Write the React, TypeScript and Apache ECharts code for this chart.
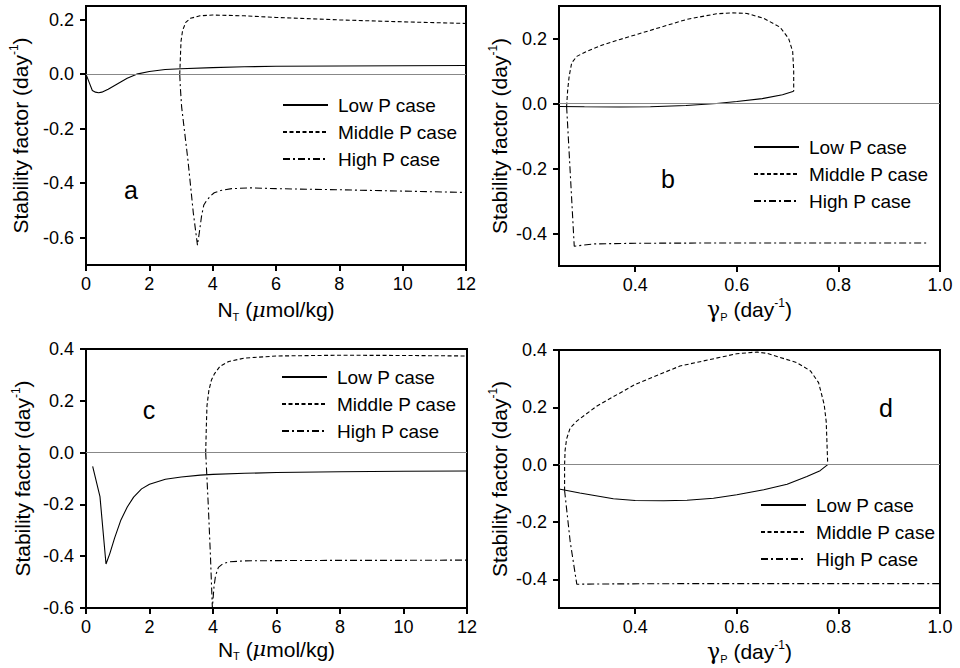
import React, { useEffect, useRef } from "react";
import * as echarts from "echarts";

const FONT = "'Liberation Sans', Arial, Helvetica, sans-serif";
const NAMES = ["Low P case", "Middle P case", "High P case"];
const PANEL_LABELS = ["a", "b", "c", "d"];

// tick marks
const xTicksN = [0, 2, 4, 6, 8, 10, 12];
const xTicksG = [0.4, 0.6, 0.8, 1.0];
const yTicksA = [-0.6, -0.4, -0.2, 0, 0.2];
const yTicksB = [-0.4, -0.2, 0, 0.2];
const yTicksC = [-0.6, -0.4, -0.2, 0, 0.2, 0.4];
const yTicksD = [-0.4, -0.2, 0, 0.2, 0.4];

// Panel a (x = N_T)
const aLowX = [0, 0.1, 0.2, 0.3, 0.4, 0.5, 0.7, 1.0, 1.3, 1.6, 2.0, 2.5, 3, 4, 5, 6, 8, 10, 12];
const aLowY = [0, -0.03, -0.06, -0.066, -0.068, -0.066, -0.055, -0.035, -0.015, 0.0, 0.01, 0.017, 0.02, 0.024, 0.027, 0.029, 0.03, 0.031, 0.032];
const aMidX = [2.96, 2.98, 3.0, 3.05, 3.15, 3.3, 3.6, 4.0, 5, 6, 8, 10, 12];
const aMidY = [0.0, 0.06, 0.12, 0.16, 0.19, 0.205, 0.214, 0.217, 0.214, 0.208, 0.199, 0.192, 0.186];
const aHighX = [2.96, 2.98, 3.02, 3.22, 3.39, 3.52, 3.58, 3.65, 3.72, 3.8, 3.92, 4.05, 4.25, 4.6, 5.2, 6, 8, 10, 12];
const aHighY = [0, -0.05, -0.12, -0.316, -0.51, -0.627, -0.58, -0.52, -0.48, -0.465, -0.448, -0.435, -0.427, -0.42, -0.417, -0.42, -0.424, -0.429, -0.434];

// Panel b (x = gamma_P)
const bLowX = [0.25, 0.3, 0.37, 0.43, 0.5, 0.56, 0.6, 0.65, 0.69, 0.712];
const bLowY = [-0.009, -0.01, -0.011, -0.01, -0.006, 0.0, 0.006, 0.015, 0.027, 0.038];
const bMidX = [0.265, 0.267, 0.27, 0.275, 0.285, 0.305, 0.337, 0.37, 0.436, 0.502, 0.56, 0.59, 0.62, 0.653, 0.685, 0.702, 0.71, 0.712, 0.712];
const bMidY = [-0.009, 0.04, 0.084, 0.125, 0.145, 0.161, 0.181, 0.197, 0.228, 0.259, 0.276, 0.279, 0.277, 0.262, 0.235, 0.2, 0.16, 0.1, 0.038];
const bHighX = [0.265, 0.28, 0.32, 0.4, 0.6, 0.8, 0.973];
const bHighY = [-0.009, -0.439, -0.432, -0.43, -0.429, -0.429, -0.429];

// Panel c (x = N_T)
const cLowX = [0.21, 0.44, 0.63, 0.75, 0.9, 1.1, 1.3, 1.5, 1.75, 2.0, 2.5, 3, 3.6, 4, 5, 6, 8, 10, 12];
const cLowY = [-0.053, -0.17, -0.43, -0.39, -0.33, -0.26, -0.21, -0.172, -0.14, -0.122, -0.103, -0.094, -0.087, -0.084, -0.08, -0.077, -0.074, -0.072, -0.071];
const cMidX = [3.77, 3.79, 3.81, 3.87, 3.95, 4.05, 4.22, 4.5, 5, 6, 8, 10, 12];
const cMidY = [0, 0.1, 0.18, 0.24, 0.28, 0.305, 0.333, 0.352, 0.365, 0.373, 0.376, 0.375, 0.373];
const cHighX = [3.77, 3.85, 3.92, 3.98, 4.03, 4.08, 4.17, 4.3, 4.5, 5, 6, 8, 10, 12];
const cHighY = [0, -0.2, -0.4, -0.6, -0.52, -0.475, -0.443, -0.43, -0.422, -0.418, -0.417, -0.416, -0.416, -0.415];

// Panel d (x = gamma_P)
const dLowX = [0.25, 0.291, 0.357, 0.4, 0.456, 0.502, 0.554, 0.6, 0.653, 0.699, 0.738, 0.764, 0.779];
const dLowY = [-0.085, -0.099, -0.119, -0.125, -0.126, -0.124, -0.117, -0.105, -0.0875, -0.068, -0.041, -0.021, 0.0];
const dMidX = [0.261, 0.261, 0.262, 0.265, 0.272, 0.285, 0.324, 0.4, 0.488, 0.6, 0.64, 0.66, 0.718, 0.745, 0.761, 0.772, 0.776, 0.778, 0.779];
const dMidY = [-0.09, 0.0, 0.05, 0.09, 0.128, 0.152, 0.204, 0.28, 0.344, 0.387, 0.393, 0.388, 0.356, 0.327, 0.286, 0.21, 0.15, 0.05, 0.0];
const dHighX = [0.261, 0.272, 0.285, 0.35, 0.5, 0.75, 1.0];
const dHighY = [-0.09, -0.268, -0.417, -0.416, -0.415, -0.415, -0.415];

const pair = (xs: number[], ys: number[]) => xs.map((x, i) => [x, ys[i]]);

const panels = [
  { grid: { left: 86, top: 6, width: 380, height: 259 }, x: [0, 12], y: [-0.7, 0.25], xt: xTicksN, yt: yTicksA, xName: "N", xGap: 32, yGap: 53, series: [pair(aLowX, aLowY), pair(aMidX, aMidY), pair(aHighX, aHighY)], legend: { left: 282, top: 95 }, label: { x: 131, y: 190 } },
  { grid: { left: 559, top: 6, width: 381, height: 260 }, x: [0.25, 1.0], y: [-0.5, 0.3], xt: xTicksG, yt: yTicksB, xName: "G", xGap: 31, yGap: 45, series: [pair(bLowX, bLowY), pair(bMidX, bMidY), pair(bHighX, bHighY)], legend: { left: 753, top: 137 }, label: { x: 668, y: 179 } },
  { grid: { left: 86, top: 349, width: 381, height: 259 }, x: [0, 12], y: [-0.6, 0.4], xt: xTicksN, yt: yTicksC, xName: "N", xGap: 25, yGap: 51, series: [pair(cLowX, cLowY), pair(cMidX, cMidY), pair(cHighX, cHighY)], legend: { left: 281, top: 367 }, label: { x: 149, y: 410 } },
  { grid: { left: 559, top: 350, width: 381, height: 258 }, x: [0.25, 1.0], y: [-0.5, 0.4], xt: xTicksG, yt: yTicksD, xName: "G", xGap: 31, yGap: 44, series: [pair(dLowX, dLowY), pair(dMidX, dMidY), pair(dHighX, dHighY)], legend: { left: 760, top: 495 }, label: { x: 886, y: 408 } },
];

const lineTypes: any[] = ["solid", [4, 2.5], [7, 3, 2, 3]];

const rich = {
  sup: { fontSize: 12, lineHeight: 12, verticalAlign: "top", fontFamily: FONT, color: "#000" },
  sub: { fontSize: 11, lineHeight: 11, verticalAlign: "bottom", fontFamily: FONT, color: "#000" },
  mu: { fontSize: 21, lineHeight: 25, fontStyle: "italic", fontFamily: "'DejaVu Serif', serif", color: "#000" },
  gam: { fontSize: 22, lineHeight: 25, fontFamily: "'DejaVu Serif', serif", color: "#000" },
};

const isShown = (v: number, step: number, from: number) => {
  const r = Math.round(v / step);
  if (Math.abs(v / step - r) > 1e-6) return false;
  return r % 2 === 0 && v >= from - 1e-9;
};

export default function App() {
  const ref = useRef<HTMLDivElement>(null);
  useEffect(() => {
    if (!ref.current) return;
    const chart = echarts.init(ref.current, null, { renderer: "svg" });
    const grids: any[] = [];
    const xAxes: any[] = [];
    const yAxes: any[] = [];
    const series: any[] = [];
    const legends: any[] = [];
    const graphics: any[] = [];
    panels.forEach((p, i) => {
      grids.push({ ...p.grid, show: true, borderColor: "#000", borderWidth: 2, backgroundColor: "transparent" });
      const isN = p.xName === "N";
      xAxes.push({
        type: "value", gridIndex: i, min: p.x[0], max: p.x[1],
        interval: isN ? 2 : 0.05,
        name: isN ? "N{sub|T} ({mu|μ}mol/kg)" : "{gam|γ}{sub|P} (day{sup|-1})",
        nameLocation: "middle", nameGap: p.xGap,
        nameTextStyle: { fontSize: 21, lineHeight: 25, fontFamily: FONT, color: "#000", rich },
        axisLine: { show: true, onZero: false, lineStyle: { color: "#000", width: 2 } },
        axisTick: { show: true, inside: false, length: 6, lineStyle: { color: "#000", width: 2 }, customValues: p.xt },
        axisLabel: {
          fontSize: 18, fontFamily: FONT, color: "#000", margin: 10, interval: 0, hideOverlap: false,
          showMinLabel: true, showMaxLabel: true,
          formatter: (v: number) => (isN ? String(Math.round(v)) : (isShown(v, 0.1, 0.4) ? v.toFixed(1) : "")),
        },
        splitLine: { show: false },
      });
      yAxes.push({
        type: "value", gridIndex: i, min: p.y[0], max: p.y[1], interval: 0.1,
        name: "Stability factor (day{sup|-1})",
        nameLocation: "middle", nameGap: p.yGap,
        nameTextStyle: { fontSize: 21, lineHeight: 25, fontFamily: FONT, color: "#000", rich },
        axisLine: { show: true, onZero: false, lineStyle: { color: "#000", width: 2 } },
        axisTick: { show: true, inside: false, length: 6, lineStyle: { color: "#000", width: 2 }, customValues: p.yt },
        axisLabel: {
          fontSize: 18, fontFamily: FONT, color: "#000", margin: 12, interval: 0, hideOverlap: false,
          formatter: (v: number) => (isShown(v, 0.1, -10) ? (Math.abs(v) < 1e-9 ? "0.0" : v.toFixed(1)) : ""),
        },
        splitLine: { show: false },
      });
      p.series.forEach((data, k) => {
        series.push({
          type: "line", name: NAMES[k], xAxisIndex: i, yAxisIndex: i, data,
          symbol: "none", showSymbol: false, smooth: false, clip: true,
          lineStyle: { color: "#000", width: 1.1, type: lineTypes[k] },
          itemStyle: { color: "#000" },
          emphasis: { disabled: true },
          z: 3,
          markLine: k === 0 ? {
            silent: true, symbol: "none", label: { show: false },
            lineStyle: { color: "#888", width: 1, type: "solid" },
            emphasis: { disabled: true },
            data: [{ yAxis: 0 }],
          } : undefined,
        });
      });
      legends.push({
        left: p.legend.left, top: p.legend.top, orient: "vertical", padding: 0,
        itemWidth: 45, itemHeight: 14, itemGap: 7, selectedMode: false,
        data: NAMES,
        itemStyle: { opacity: 0, color: "transparent", borderWidth: 0 },
        textStyle: { fontSize: 19, lineHeight: 20, fontFamily: FONT, color: "#000", padding: [0, 0, 0, 5] },
      });
      graphics.push({
        type: "text", x: p.label.x, y: p.label.y,
        style: { text: PANEL_LABELS[i], fontSize: 25, fontFamily: FONT, fill: "#000", textAlign: "center", textVerticalAlign: "middle" },
      });
    });
    chart.setOption({
      animation: false,
      backgroundColor: "#fff",
      grid: grids, xAxis: xAxes, yAxis: yAxes, series, legend: legends,
      graphic: graphics,
    });
    return () => chart.dispose();
  }, []);
  return <div ref={ref} style={{ position: "fixed", left: 0, top: 0, width: 960, height: 668 }} />;
}
